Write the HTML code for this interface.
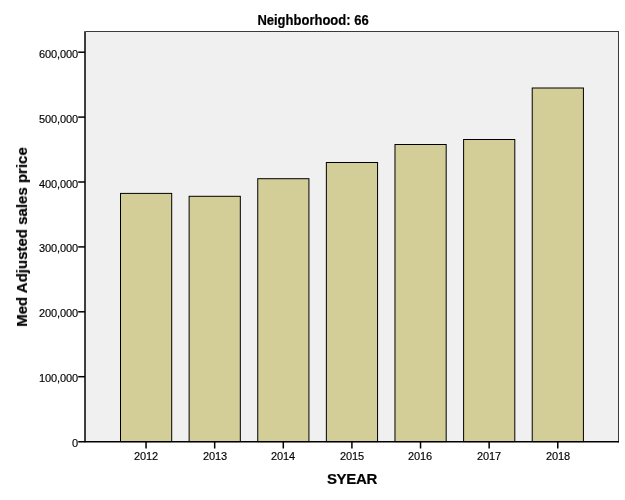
<!DOCTYPE html>
<html><head><meta charset="utf-8"><style>
html,body{margin:0;padding:0;background:#fff;}
body{width:625px;height:500px;position:relative;overflow:hidden;font-family:"Liberation Sans",sans-serif;color:#000;}
svg{position:absolute;left:0;top:0;}
#title,#xl,.yt,.xt,#yl span{will-change:transform;}
#title,#xl,#yl span{-webkit-text-stroke:0.2px #000;}
.yt{position:absolute;right:546.5px;letter-spacing:-0.1px;-webkit-text-stroke:0.15px #000;margin-top:1px;font-size:11px;line-height:12px;height:12px;white-space:nowrap;}
.xt{letter-spacing:-0.1px;-webkit-text-stroke:0.15px #000;position:absolute;top:450px;width:60px;text-align:center;font-size:11px;line-height:12px;}
#title{transform:scaleY(1.1);transform-origin:50% 11px;position:absolute;left:0;width:626px;text-align:center;top:14px;font-size:13px;line-height:14px;font-weight:bold;}
#xl{position:absolute;left:252px;width:200px;text-align:center;top:470.5px;letter-spacing:-0.3px;font-size:15px;line-height:16px;font-weight:bold;}
#yl{position:absolute;left:22px;top:237px;width:0;height:0;}
#yl span{position:absolute;display:block;white-space:nowrap;font-size:15px;line-height:16px;font-weight:bold;transform:translate(-50%,-50%) rotate(-90deg);transform-origin:center;}
</style></head><body>
<svg width="625" height="500" viewBox="0 0 625 500">
<rect x="85" y="31.5" width="533.5" height="410" fill="#f0f0f0"/>
<g>
<rect x="120.50" y="193.40" width="51.2" height="248.20" fill="#d3ce97" stroke="#000" stroke-width="1"/>
<rect x="189.12" y="196.30" width="51.2" height="245.30" fill="#d3ce97" stroke="#000" stroke-width="1"/>
<rect x="257.74" y="178.70" width="51.2" height="262.90" fill="#d3ce97" stroke="#000" stroke-width="1"/>
<rect x="326.36" y="162.50" width="51.2" height="279.10" fill="#d3ce97" stroke="#000" stroke-width="1"/>
<rect x="394.98" y="144.50" width="51.2" height="297.10" fill="#d3ce97" stroke="#000" stroke-width="1"/>
<rect x="463.60" y="139.50" width="51.2" height="302.10" fill="#d3ce97" stroke="#000" stroke-width="1"/>
<rect x="532.22" y="88.00" width="51.2" height="353.60" fill="#d3ce97" stroke="#000" stroke-width="1"/>
</g>
<g stroke="#000" stroke-width="1.5" fill="none">
<line x1="78.2" y1="376.70" x2="85" y2="376.70"/>
<line x1="78.2" y1="311.80" x2="85" y2="311.80"/>
<line x1="78.2" y1="246.90" x2="85" y2="246.90"/>
<line x1="78.2" y1="182.00" x2="85" y2="182.00"/>
<line x1="78.2" y1="117.10" x2="85" y2="117.10"/>
<line x1="78.2" y1="52.20" x2="85" y2="52.20"/>
<line x1="146.05" y1="441.6" x2="146.05" y2="448.5"/>
<line x1="214.67" y1="441.6" x2="214.67" y2="448.5"/>
<line x1="283.29" y1="441.6" x2="283.29" y2="448.5"/>
<line x1="351.91" y1="441.6" x2="351.91" y2="448.5"/>
<line x1="420.53" y1="441.6" x2="420.53" y2="448.5"/>
<line x1="489.15" y1="441.6" x2="489.15" y2="448.5"/>
<line x1="557.77" y1="441.6" x2="557.77" y2="448.5"/>
</g>
<g stroke="#3a3a3a" fill="none">
<line x1="85.75" y1="31.5" x2="619" y2="31.5" stroke-width="1"/>
<line x1="618.5" y1="31" x2="618.5" y2="442.4" stroke-width="1"/>
<line x1="85" y1="31.2" x2="85" y2="442.35" stroke-width="1.5" stroke="#000"/>
<line x1="78.2" y1="441.7" x2="619" y2="441.7" stroke-width="1.5" stroke="#000"/>
</g>
</svg>
<div id="title">Neighborhood: 66</div>
<div class="yt" style="top:436px;">0</div>
<div class="yt" style="top:371px;">100,000</div>
<div class="yt" style="top:306px;">200,000</div>
<div class="yt" style="top:241px;">300,000</div>
<div class="yt" style="top:177px;">400,000</div>
<div class="yt" style="top:112px;">500,000</div>
<div class="yt" style="top:47px;">600,000</div>
<div class="xt" style="left:116px;">2012</div>
<div class="xt" style="left:185px;">2013</div>
<div class="xt" style="left:253px;">2014</div>
<div class="xt" style="left:322px;">2015</div>
<div class="xt" style="left:390px;">2016</div>
<div class="xt" style="left:459px;">2017</div>
<div class="xt" style="left:528px;">2018</div>
<div id="xl">SYEAR</div>
<div id="yl"><span>Med Adjusted sales price</span></div>
</body></html>
